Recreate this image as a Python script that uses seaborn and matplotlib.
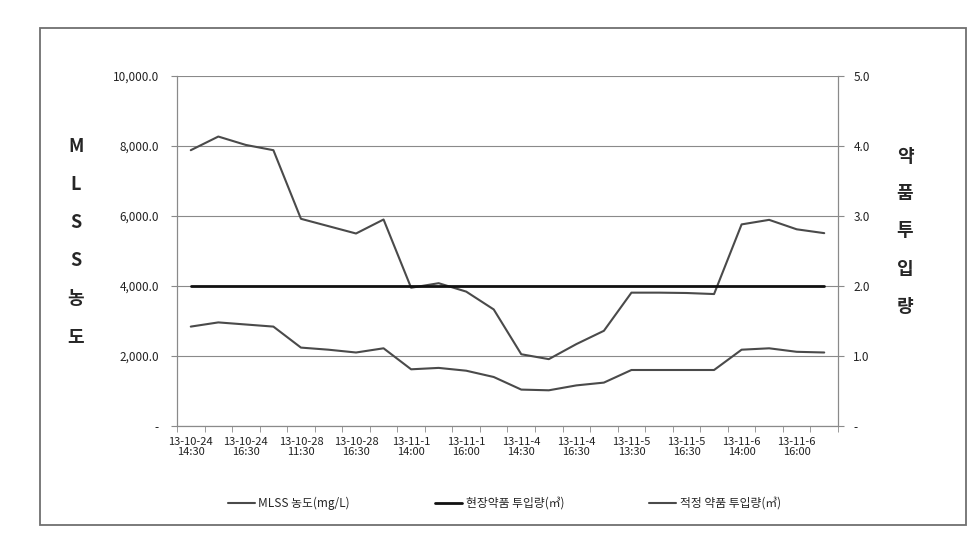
import numpy as np
import pandas as pd
import matplotlib
matplotlib.use("Agg")
import matplotlib.pyplot as plt
import seaborn as sns
from matplotlib.patches import Rectangle

# ---------------- data ----------------
tick_labels = ["13-10-24\n14:30", "13-10-24\n16:30", "13-10-28\n11:30", "13-10-28\n16:30",
               "13-11-1\n14:00", "13-11-1\n16:00", "13-11-4\n14:30", "13-11-4\n16:30",
               "13-11-5\n13:30", "13-11-5\n16:30", "13-11-6\n14:00", "13-11-6\n16:00"]
mlss = [7880, 8270, 8030, 7880, 5920, 5710, 5500, 5900, 3950, 4080, 3840, 3330,
        2050, 1910, 2340, 2720, 3810, 3810, 3800, 3770, 5760, 5890, 5620, 5510]
site_dose = [2.0, 2.0, 2.0, 2.0, 2.0, 2.0, 2.0, 2.0, 2.0, 2.0, 2.0, 2.0,
             2.0, 2.0, 2.0, 2.0, 2.0, 2.0, 2.0, 2.0, 2.0, 2.0, 2.0, 2.0]
proper_dose = [1.42, 1.48, 1.45, 1.42, 1.12, 1.09, 1.05, 1.11, 0.81, 0.83, 0.79, 0.70,
               0.52, 0.51, 0.58, 0.62, 0.80, 0.80, 0.80, 0.80, 1.09, 1.11, 1.06, 1.05]
left_ticks = [0, 2000, 4000, 6000, 8000, 10000]
right_ticks = [0, 1, 2, 3, 4, 5]
names = ["MLSS 농도(mg/L)", "현장약품 투입량(㎥)", "적정 약품 투입량(㎥)"]

n = len(mlss)
df = pd.DataFrame({"idx": np.arange(n), "mlss": mlss,
                   "site": site_dose, "proper": proper_dose})

sns.set_style("white")
plt.rcParams["font.family"] = ["Noto Sans CJK KR", "DejaVu Sans"]

fig = plt.figure(figsize=(9.79, 5.44), dpi=100)
ax = fig.add_axes([177 / 979, 1 - 426 / 544, (838 - 177) / 979, (426 - 76) / 544])
ax2 = ax.twinx()

grid_c = "#8a8a8a"
line_c = "#4a4a4a"

sns.lineplot(data=df, x="idx", y="mlss", ax=ax, color=line_c, lw=1.5, label=names[0], legend=False)
sns.lineplot(data=df, x="idx", y="site", ax=ax2, color="#111111", lw=2.0, label=names[1], legend=False)
sns.lineplot(data=df, x="idx", y="proper", ax=ax2, color=line_c, lw=1.5, label=names[2], legend=False)

ax.set_xlim(-0.5, n - 0.5)
ax.set_ylim(0, 10000)
ax2.set_ylim(0, 5)
ax.set_yticks(left_ticks)
ax.set_yticklabels(["-" if v == 0 else f"{v:,.1f}" for v in left_ticks])
ax2.set_yticks(right_ticks)
ax2.set_yticklabels(["-" if v == 0 else f"{v:.1f}" for v in right_ticks])
ax.set_xticks(np.arange(0, n, 2))
ax.set_xticklabels(tick_labels)
ax.set_xticks(np.arange(-0.5, n, 1), minor=True)

ax.set_xlabel("")
ax.set_ylabel("")
ax2.set_ylabel("")

ax.yaxis.grid(True, color=grid_c, lw=0.8)
ax.xaxis.grid(False)
ax2.grid(False)

for a in (ax, ax2):
    a.spines["top"].set_visible(False)
    for s in ("left", "right", "bottom"):
        a.spines[s].set_color(grid_c)
        a.spines[s].set_linewidth(0.8)

ax.tick_params(axis="y", left=True, length=4, color=grid_c, pad=9, labelsize=8.5, labelcolor="#222")
ax2.tick_params(axis="y", right=True, length=4, color=grid_c, pad=7, labelsize=8.5, labelcolor="#222")
ax.tick_params(axis="x", which="major", bottom=False, length=0, pad=8, labelsize=8, labelcolor="#222")
ax.tick_params(axis="x", which="minor", bottom=True, length=4, color=grid_c)
for t in ax.get_xticklabels():
    t.set_linespacing(1.0)

# vertical axis titles
for ch, y in zip(["M", "L", "S", "S", "농", "도"], [147, 185, 223, 260, 298, 337]):
    fig.text(76 / 979, 1 - y / 544, ch, ha="center", va="center", fontsize=13, fontweight="heavy")
for ch, y in zip(["약", "품", "투", "입", "량"], [157, 193, 230, 269, 307]):
    fig.text(905 / 979, 1 - y / 544, ch, ha="center", va="center", fontsize=13, fontweight="heavy")

h1, l1 = ax.get_legend_handles_labels()
h2, l2 = ax2.get_legend_handles_labels()
fig.legend(h1 + h2, l1 + l2, loc="center", bbox_to_anchor=(0.515, 1 - 503 / 544), ncol=3,
           frameon=False, fontsize=8.5, handlelength=2.3, handletextpad=0.3, columnspacing=7.2)

fig.patches.append(Rectangle((40 / 979, 1 - 525 / 544), 926 / 979, 497 / 544,
                             transform=fig.transFigure, fill=False, ec="#6f6f6f", lw=1.3))

fig.savefig("out.png", dpi=100)
